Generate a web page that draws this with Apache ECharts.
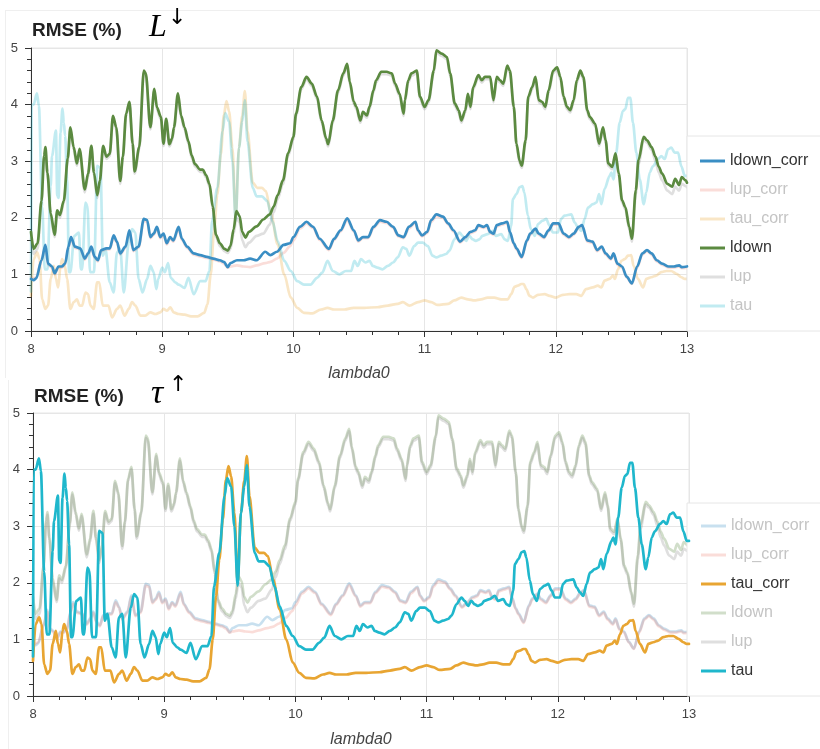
<!DOCTYPE html>
<html>
<head>
<meta charset="utf-8">
<script src="https://cdn.jsdelivr.net/npm/echarts@6/dist/echarts.min.js"></script>
<style>
  html, body { margin: 0; padding: 0; background: #fff; }
  #chart { width: 820px; height: 749px; }
</style>
</head>
<body>
<div id="chart"></div>
<script>
// RMSE (%) against lambda0, one [lambda0, rmse] pair per vertex.
const ldownCorr = [[8.00,0.92],[8.02,0.9],[8.04,0.93],[8.08,1.25],[8.11,1.52],[8.13,1.19],[8.16,1.14],[8.18,1.02],[8.21,1.14],[8.235,1.14],[8.26,1.19],[8.285,1.49],[8.305,1.66],[8.335,1.49],[8.375,1.46],[8.41,1.28],[8.435,1.37],[8.46,1.49],[8.485,1.31],[8.51,1.25],[8.535,1.43],[8.575,1.46],[8.60,1.46],[8.63,1.69],[8.655,1.58],[8.68,1.37],[8.72,1.49],[8.75,1.78],[8.78,1.43],[8.82,1.49],[8.86,1.98],[8.885,1.96],[8.91,1.66],[8.935,1.72],[8.96,1.84],[8.985,1.66],[9.01,1.72],[9.035,1.55],[9.06,1.66],[9.085,1.6],[9.125,1.84],[9.15,1.63],[9.19,1.49],[9.24,1.37],[9.29,1.34],[9.34,1.31],[9.39,1.28],[9.44,1.25],[9.47,1.22],[9.50,1.13],[9.52,1.2],[9.57,1.25],[9.62,1.25],[9.67,1.28],[9.72,1.25],[9.785,1.4],[9.825,1.34],[9.875,1.4],[9.925,1.52],[9.975,1.55],[10.0,1.66],[10.05,1.84],[10.10,1.93],[10.15,1.84],[10.20,1.63],[10.27,1.45],[10.31,1.63],[10.36,1.78],[10.41,1.99],[10.46,1.78],[10.495,1.6],[10.53,1.66],[10.57,1.66],[10.61,1.84],[10.66,1.96],[10.71,1.93],[10.76,1.84],[10.80,1.69],[10.84,1.66],[10.88,1.84],[10.93,1.93],[10.95,1.78],[10.98,1.69],[11.02,1.75],[11.05,1.96],[11.09,2.06],[11.14,2.02],[11.18,1.9],[11.22,1.78],[11.27,1.58],[11.31,1.66],[11.35,1.75],[11.385,1.78],[11.41,1.87],[11.45,1.84],[11.475,1.87],[11.50,1.75],[11.525,1.72],[11.55,1.87],[11.59,1.9],[11.63,1.93],[11.65,1.75],[11.68,1.55],[11.70,1.46],[11.74,1.31],[11.78,1.6],[11.805,1.72],[11.845,1.81],[11.87,1.72],[11.91,1.66],[11.945,1.78],[11.98,1.9],[12.02,1.9],[12.06,1.72],[12.10,1.66],[12.136,1.72],[12.175,1.84],[12.20,1.87],[12.24,1.6],[12.28,1.58],[12.315,1.43],[12.35,1.49],[12.38,1.37],[12.42,1.28],[12.44,1.37],[12.47,1.19],[12.505,1.14],[12.54,0.96],[12.58,0.84],[12.62,1.14],[12.66,1.37],[12.695,1.43],[12.73,1.37],[12.77,1.25],[12.81,1.19],[12.86,1.14],[12.90,1.14],[12.94,1.16],[12.96,1.13],[13.00,1.14]];

const lupCorr = [[8.00,0.96],[8.02,0.93],[8.04,0.95],[8.08,1.24],[8.11,1.49],[8.13,1.17],[8.16,1.12],[8.18,1.0],[8.21,1.12],[8.235,1.12],[8.26,1.17],[8.285,1.46],[8.305,1.63],[8.335,1.47],[8.375,1.44],[8.41,1.26],[8.435,1.35],[8.46,1.47],[8.485,1.29],[8.51,1.23],[8.535,1.41],[8.575,1.44],[8.60,1.44],[8.63,1.66],[8.655,1.56],[8.68,1.35],[8.72,1.47],[8.75,1.75],[8.78,1.41],[8.82,1.47],[8.86,1.95],[8.885,1.93],[8.91,1.64],[8.935,1.7],[8.96,1.81],[8.985,1.64],[9.01,1.7],[9.035,1.53],[9.06,1.64],[9.085,1.58],[9.125,1.81],[9.15,1.61],[9.19,1.47],[9.24,1.35],[9.29,1.32],[9.34,1.29],[9.39,1.26],[9.44,1.23],[9.47,1.19],[9.50,1.12],[9.52,1.14],[9.57,1.16],[9.62,1.14],[9.67,1.13],[9.72,1.16],[9.785,1.2],[9.825,1.22],[9.875,1.28],[9.925,1.38],[9.975,1.5],[10.0,1.6],[10.05,1.81],[10.10,1.9],[10.15,1.82],[10.20,1.61],[10.27,1.43],[10.31,1.61],[10.36,1.76],[10.41,1.96],[10.46,1.76],[10.495,1.58],[10.53,1.64],[10.57,1.64],[10.61,1.82],[10.66,1.93],[10.71,1.91],[10.76,1.82],[10.80,1.67],[10.84,1.64],[10.88,1.81],[10.93,1.91],[10.95,1.76],[10.98,1.67],[11.02,1.73],[11.05,1.93],[11.09,2.03],[11.14,2.0],[11.18,1.88],[11.22,1.76],[11.27,1.56],[11.31,1.64],[11.35,1.73],[11.385,1.76],[11.41,1.85],[11.45,1.82],[11.475,1.85],[11.50,1.73],[11.525,1.7],[11.55,1.85],[11.59,1.88],[11.63,1.91],[11.65,1.73],[11.68,1.53],[11.70,1.44],[11.74,1.29],[11.78,1.58],[11.805,1.7],[11.845,1.79],[11.87,1.7],[11.91,1.64],[11.945,1.76],[11.98,1.88],[12.02,1.88],[12.06,1.7],[12.10,1.64],[12.136,1.7],[12.175,1.82],[12.20,1.85],[12.24,1.58],[12.28,1.56],[12.315,1.41],[12.35,1.47],[12.38,1.35],[12.42,1.26],[12.44,1.35],[12.47,1.17],[12.505,1.12],[12.54,0.95],[12.58,0.83],[12.62,1.12],[12.66,1.35],[12.695,1.41],[12.73,1.35],[12.77,1.23],[12.81,1.17],[12.86,1.12],[12.90,1.12],[12.94,1.14],[12.96,1.11],[13.00,1.12]];

const tauCorr = [[8.00,0.62],[8.02,1.27],[8.047,1.39],[8.065,1.27],[8.085,0.56],[8.11,0.39],[8.13,0.45],[8.15,0.92],[8.174,1.15],[8.19,0.92],[8.207,0.77],[8.225,1.15],[8.237,1.27],[8.258,1.15],[8.275,0.92],[8.30,0.39],[8.326,0.51],[8.35,0.56],[8.37,0.45],[8.39,0.45],[8.415,0.68],[8.435,0.65],[8.453,0.45],[8.478,0.39],[8.504,0.86],[8.52,0.86],[8.547,0.45],[8.59,0.45],[8.618,0.24],[8.656,0.39],[8.68,0.45],[8.714,0.27],[8.745,0.39],[8.77,0.51],[8.795,0.45],[8.834,0.27],[8.87,0.27],[8.91,0.33],[8.948,0.3],[8.986,0.33],[9.01,0.39],[9.037,0.36],[9.062,0.42],[9.087,0.33],[9.125,0.3],[9.17,0.29],[9.22,0.26],[9.27,0.26],[9.32,0.32],[9.345,0.47],[9.37,1.0],[9.395,1.76],[9.42,2.41],[9.447,3.12],[9.47,3.82],[9.49,4.06],[9.51,3.88],[9.535,3.24],[9.56,2.0],[9.585,3.24],[9.61,3.8],[9.63,4.24],[9.65,3.53],[9.69,2.62],[9.725,2.53],[9.76,2.53],[9.79,2.47],[9.83,2.06],[9.88,1.53],[9.93,1.0],[9.98,0.59],[10.03,0.41],[10.08,0.32],[10.145,0.31],[10.21,0.38],[10.26,0.41],[10.31,0.38],[10.39,0.38],[10.46,0.41],[10.54,0.41],[10.64,0.42],[10.72,0.45],[10.795,0.48],[10.834,0.51],[10.884,0.45],[10.95,0.51],[11.0,0.54],[11.05,0.51],[11.1,0.46],[11.18,0.48],[11.227,0.54],[11.28,0.59],[11.33,0.56],[11.38,0.54],[11.43,0.56],[11.48,0.59],[11.53,0.59],[11.584,0.56],[11.634,0.56],[11.66,0.65],[11.685,0.78],[11.71,0.8],[11.737,0.83],[11.755,0.83],[11.775,0.74],[11.80,0.62],[11.826,0.59],[11.864,0.64],[11.915,0.65],[11.953,0.62],[12.0,0.59],[12.054,0.64],[12.105,0.65],[12.156,0.65],[12.194,0.62],[12.23,0.74],[12.283,0.77],[12.32,0.8],[12.347,0.77],[12.372,0.89],[12.41,0.92],[12.436,0.98],[12.45,0.92],[12.474,1.09],[12.5,1.24],[12.525,1.27],[12.55,1.33],[12.575,1.34],[12.593,1.15],[12.626,0.92],[12.665,0.77],[12.69,0.92],[12.728,0.95],[12.766,0.98],[12.804,1.04],[12.843,1.06],[12.88,1.06],[12.92,1.01],[12.957,0.95],[12.983,0.92],[13.0,0.92]];

const ldown = [[8.00,1.75],[8.02,1.45],[8.05,1.55],[8.08,2.3],[8.10,3.1],[8.11,3.25],[8.125,2.8],[8.15,2.08],[8.18,1.7],[8.20,2.13],[8.22,2.05],[8.25,2.3],[8.28,3.05],[8.30,3.6],[8.325,3.25],[8.35,2.96],[8.37,3.22],[8.41,2.5],[8.435,2.78],[8.46,3.27],[8.48,2.8],[8.505,2.4],[8.525,2.66],[8.55,3.27],[8.575,3.08],[8.60,3.13],[8.625,3.8],[8.65,3.6],[8.68,2.65],[8.70,3.08],[8.725,3.84],[8.75,4.05],[8.775,3.31],[8.79,2.82],[8.825,3.25],[8.86,4.6],[8.875,4.55],[8.91,3.6],[8.94,4.28],[8.96,3.95],[8.99,3.78],[9.01,3.31],[9.03,3.75],[9.055,3.3],[9.075,3.4],[9.09,3.6],[9.12,4.2],[9.145,3.8],[9.17,3.6],[9.20,3.35],[9.225,3.1],[9.25,2.95],[9.29,2.85],[9.31,2.85],[9.335,2.75],[9.36,2.6],[9.385,2.2],[9.41,1.7],[9.44,1.55],[9.475,1.45],[9.50,1.42],[9.52,1.5],[9.545,1.8],[9.565,2.12],[9.59,2.03],[9.61,1.75],[9.635,1.65],[9.66,1.75],[9.72,1.85],[9.77,1.97],[9.82,2.06],[9.85,2.2],[9.88,2.4],[9.92,2.66],[9.96,3.14],[10.00,3.43],[10.02,3.84],[10.06,4.31],[10.10,4.49],[10.14,4.37],[10.18,4.14],[10.215,3.72],[10.25,3.4],[10.265,3.3],[10.30,3.72],[10.34,4.25],[10.38,4.55],[10.41,4.72],[10.43,4.4],[10.46,4.05],[10.48,3.96],[10.51,3.72],[10.53,3.87],[10.56,3.81],[10.58,3.96],[10.61,4.25],[10.63,4.43],[10.67,4.58],[10.71,4.58],[10.75,4.55],[10.775,4.37],[10.81,4.19],[10.84,3.84],[10.85,4.08],[10.875,4.43],[10.90,4.55],[10.94,4.6],[10.965,4.14],[11.00,3.96],[11.03,4.08],[11.07,4.6],[11.09,4.96],[11.13,4.9],[11.17,4.84],[11.195,4.55],[11.23,4.02],[11.26,3.9],[11.28,3.72],[11.31,3.9],[11.33,4.19],[11.35,3.96],[11.37,4.31],[11.41,4.52],[11.436,4.43],[11.46,4.49],[11.50,4.49],[11.525,4.08],[11.55,4.49],[11.575,4.43],[11.60,4.37],[11.63,4.69],[11.65,4.6],[11.68,3.96],[11.70,3.31],[11.725,3.0],[11.74,2.92],[11.77,3.37],[11.79,4.14],[11.82,4.31],[11.845,4.49],[11.87,4.08],[11.895,4.05],[11.92,3.96],[11.945,4.25],[11.98,4.6],[12.01,4.66],[12.035,4.49],[12.06,4.14],[12.085,3.96],[12.11,3.9],[12.136,4.08],[12.16,4.43],[12.187,4.6],[12.21,4.49],[12.24,3.9],[12.26,3.78],[12.30,3.66],[12.33,3.31],[12.36,3.6],[12.38,3.37],[12.40,2.96],[12.43,2.9],[12.455,3.14],[12.48,2.78],[12.505,2.31],[12.53,2.19],[12.56,1.84],[12.58,1.63],[12.61,2.49],[12.63,3.02],[12.67,3.43],[12.695,3.37],[12.73,3.25],[12.76,3.08],[12.785,2.9],[12.81,2.78],[12.85,2.6],[12.887,2.55],[12.91,2.69],[12.94,2.58],[12.96,2.72],[12.99,2.66],[13.00,2.62]];

const lup = [[8.00,1.62],[8.02,1.36],[8.05,1.45],[8.08,2.25],[8.10,3.06],[8.11,3.2],[8.125,2.76],[8.15,2.02],[8.18,1.66],[8.20,2.08],[8.22,2.0],[8.25,2.26],[8.28,3.01],[8.30,3.56],[8.325,3.2],[8.35,2.92],[8.37,3.18],[8.41,2.45],[8.435,2.73],[8.46,3.22],[8.48,2.76],[8.505,2.35],[8.525,2.62],[8.55,3.23],[8.575,3.04],[8.60,3.09],[8.625,3.76],[8.65,3.56],[8.68,2.6],[8.70,3.04],[8.725,3.8],[8.75,4.01],[8.775,3.27],[8.79,2.78],[8.825,3.21],[8.86,4.56],[8.875,4.51],[8.91,3.56],[8.94,4.24],[8.96,3.91],[8.99,3.74],[9.01,3.27],[9.03,3.71],[9.055,3.26],[9.075,3.36],[9.09,3.56],[9.12,4.16],[9.145,3.76],[9.17,3.56],[9.20,3.31],[9.225,3.06],[9.25,2.91],[9.29,2.81],[9.31,2.81],[9.335,2.71],[9.36,2.56],[9.385,2.16],[9.41,1.66],[9.44,1.5],[9.475,1.41],[9.50,1.38],[9.52,1.45],[9.545,1.72],[9.565,2.0],[9.59,1.92],[9.61,1.6],[9.635,1.48],[9.66,1.56],[9.72,1.68],[9.77,1.72],[9.82,1.88],[9.85,2.1],[9.88,2.33],[9.92,2.6],[9.96,3.1],[10.00,3.39],[10.02,3.8],[10.06,4.27],[10.10,4.45],[10.14,4.33],[10.18,4.1],[10.215,3.68],[10.25,3.36],[10.265,3.26],[10.30,3.68],[10.34,4.21],[10.38,4.51],[10.41,4.68],[10.43,4.36],[10.46,4.01],[10.48,3.92],[10.51,3.68],[10.53,3.83],[10.56,3.77],[10.58,3.92],[10.61,4.21],[10.63,4.39],[10.67,4.54],[10.71,4.54],[10.75,4.51],[10.775,4.33],[10.81,4.15],[10.84,3.8],[10.85,4.04],[10.875,4.39],[10.90,4.51],[10.94,4.56],[10.965,4.1],[11.00,3.92],[11.03,4.04],[11.07,4.56],[11.09,4.92],[11.13,4.86],[11.17,4.8],[11.195,4.51],[11.23,3.98],[11.26,3.86],[11.28,3.68],[11.31,3.86],[11.33,4.15],[11.35,3.92],[11.37,4.27],[11.41,4.48],[11.436,4.39],[11.46,4.45],[11.50,4.45],[11.525,4.04],[11.55,4.45],[11.575,4.39],[11.60,4.33],[11.63,4.65],[11.65,4.56],[11.68,3.92],[11.70,3.27],[11.725,2.96],[11.74,2.88],[11.77,3.33],[11.79,4.1],[11.82,4.27],[11.845,4.45],[11.87,4.04],[11.895,4.01],[11.92,3.92],[11.945,4.21],[11.98,4.56],[12.01,4.62],[12.035,4.45],[12.06,4.1],[12.085,3.92],[12.11,3.86],[12.136,4.04],[12.16,4.39],[12.187,4.56],[12.21,4.45],[12.24,3.86],[12.26,3.74],[12.30,3.62],[12.33,3.27],[12.36,3.56],[12.38,3.33],[12.40,2.92],[12.43,2.86],[12.455,3.1],[12.48,2.74],[12.505,2.27],[12.53,2.15],[12.56,1.8],[12.58,1.58],[12.61,2.42],[12.63,2.95],[12.67,3.38],[12.695,3.33],[12.73,3.2],[12.76,3.0],[12.785,2.8],[12.81,2.66],[12.85,2.48],[12.887,2.42],[12.91,2.55],[12.94,2.48],[12.96,2.6],[12.99,2.56],[13.00,2.54]];

const tau = [[8.00,0.7],[8.005,4.0],[8.02,4.0],[8.045,4.2],[8.06,3.98],[8.085,2.2],[8.105,1.09],[8.125,1.09],[8.15,2.56],[8.16,3.09],[8.19,3.54],[8.20,2.39],[8.21,2.35],[8.225,3.5],[8.24,3.93],[8.25,3.68],[8.26,3.45],[8.275,2.68],[8.29,1.04],[8.30,1.04],[8.33,1.68],[8.365,1.74],[8.38,1.09],[8.39,1.09],[8.415,2.27],[8.43,2.21],[8.45,1.04],[8.48,1.04],[8.505,2.92],[8.53,2.88],[8.547,1.33],[8.567,1.45],[8.60,0.86],[8.63,0.68],[8.655,1.39],[8.68,1.45],[8.707,0.68],[8.745,1.56],[8.77,1.8],[8.795,1.74],[8.82,0.92],[8.85,0.68],[8.885,0.92],[8.91,1.15],[8.935,1.04],[8.955,0.74],[8.97,0.92],[9.00,1.12],[9.02,1.04],[9.045,1.2],[9.065,0.94],[9.10,0.86],[9.125,0.82],[9.17,0.76],[9.20,0.94],[9.24,0.65],[9.29,0.88],[9.33,0.88],[9.36,1.06],[9.38,1.94],[9.42,2.53],[9.46,3.53],[9.48,3.85],[9.51,3.7],[9.535,3.0],[9.56,1.95],[9.585,3.24],[9.61,3.7],[9.63,4.08],[9.65,3.35],[9.69,2.53],[9.72,2.38],[9.76,2.38],[9.80,2.3],[9.84,1.94],[9.88,1.59],[9.93,1.24],[9.98,1.06],[10.03,0.88],[10.08,0.82],[10.13,0.82],[10.18,0.94],[10.22,1.03],[10.26,1.24],[10.30,1.06],[10.35,1.0],[10.40,1.06],[10.44,1.06],[10.465,1.24],[10.49,1.15],[10.515,1.27],[10.55,1.21],[10.58,1.24],[10.605,1.15],[10.64,1.12],[10.68,1.09],[10.72,1.15],[10.76,1.21],[10.795,1.3],[10.834,1.48],[10.86,1.45],[10.884,1.33],[10.92,1.5],[10.95,1.56],[10.986,1.56],[11.025,1.5],[11.06,1.33],[11.09,1.3],[11.125,1.33],[11.164,1.36],[11.19,1.42],[11.227,1.62],[11.266,1.74],[11.29,1.68],[11.316,1.59],[11.34,1.68],[11.367,1.62],[11.39,1.59],[11.418,1.62],[11.44,1.68],[11.48,1.71],[11.52,1.77],[11.545,1.68],[11.584,1.71],[11.61,1.62],[11.634,1.59],[11.66,1.86],[11.673,2.33],[11.70,2.42],[11.724,2.54],[11.745,2.56],[11.76,2.45],[11.787,2.04],[11.81,1.8],[11.84,1.68],[11.864,1.89],[11.90,1.95],[11.927,1.98],[11.953,1.86],[11.978,1.74],[12.016,1.74],[12.04,1.98],[12.067,2.04],[12.118,2.06],[12.143,1.92],[12.169,1.83],[12.194,1.77],[12.22,1.98],[12.245,2.18],[12.283,2.24],[12.31,2.27],[12.33,2.42],[12.347,2.24],[12.372,2.51],[12.41,2.74],[12.423,2.8],[12.44,2.68],[12.46,3.15],[12.487,3.68],[12.512,3.89],[12.53,3.92],[12.55,4.12],[12.568,4.12],[12.588,3.68],[12.614,3.15],[12.64,2.68],[12.67,2.24],[12.69,2.45],[12.716,2.8],[12.74,2.91],[12.78,3.04],[12.804,3.09],[12.83,3.04],[12.855,3.21],[12.88,3.24],[12.906,3.15],[12.932,3.15],[12.957,2.91],[12.983,2.74],[13.0,2.74]];

const seriesNames = ['ldown_corr', 'lup_corr', 'tau_corr', 'ldown', 'lup', 'tau'];
const seriesValues = {
  ldown_corr: ldownCorr, lup_corr: lupCorr, tau_corr: tauCorr,
  ldown: ldown, lup: lup, tau: tau
};
const xTicks = [8, 9, 10, 11, 12, 13];
const yTicks = [0, 1, 2, 3, 4, 5];

const palette = {
  ldown_corr: '#3a8ec4', lup_corr: '#ee8478', tau_corr: '#e8a532',
  ldown: '#5b8a40', lup: '#8c8c8c', tau: '#1fb7cc'
};
const mutedAlpha = 0.28;

function rgba(hex, a) {
  const n = parseInt(hex.slice(1), 16);
  return 'rgba(' + ((n >> 16) & 255) + ',' + ((n >> 8) & 255) + ',' + (n & 255) + ',' + a + ')';
}

const SANS = '"Liberation Sans", Arial, Helvetica, sans-serif';
const SERIF = '"Liberation Serif", "Times New Roman", serif';

// Two stacked figures; each highlights a pair of quantities and mutes the rest.
const panels = [
  { active: ['ldown_corr', 'ldown'], grid: { left: 31, top: 48, width: 656, height: 283 },
    legendTop: 136, legendPad: [17, 60, 17, 13], nameGap: 35 },
  { active: ['tau_corr', 'tau'], grid: { left: 33, top: 413, width: 656, height: 284 },
    legendTop: 503, legendPad: [15, 60, 17, 14], nameGap: 36 }
];

const grids = [], xAxes = [], yAxes = [], legends = [], series = [];

panels.forEach((p, i) => {
  grids.push(Object.assign({ show: true, borderColor: '#e6e6e6', borderWidth: 1, containLabel: false }, p.grid));

  xAxes.push({
    type: 'value', gridIndex: i, min: xTicks[0], max: xTicks[xTicks.length - 1], interval: 1,
    name: 'lambda0', nameLocation: 'middle', nameGap: p.nameGap,
    nameTextStyle: { fontStyle: 'italic', fontSize: 16, color: '#444', fontFamily: SANS },
    axisLine: { show: true, onZero: false, lineStyle: { color: '#333', width: 1 } },
    axisTick: { show: true, length: 6, lineStyle: { color: '#333' } },
    minorTick: { show: true, splitNumber: 5, length: 4, lineStyle: { color: '#333' } },
    splitLine: { show: true, lineStyle: { color: '#e6e6e6', width: 1 } },
    axisLabel: { color: '#444', fontSize: 13, margin: 12, fontFamily: SANS }
  });

  yAxes.push({
    type: 'value', gridIndex: i, min: yTicks[0], max: yTicks[yTicks.length - 1], interval: 1,
    axisLine: { show: true, lineStyle: { color: '#333', width: 1 } },
    axisTick: { show: true, length: 6, lineStyle: { color: '#333' } },
    minorTick: { show: true, splitNumber: 5, length: 4, lineStyle: { color: '#333' } },
    splitLine: { show: true, lineStyle: { color: '#e6e6e6', width: 1 } },
    axisLabel: { color: '#444', fontSize: 13, margin: 13, fontFamily: SANS }
  });

  legends.push({
    orient: 'vertical', left: 687, top: p.legendTop, padding: p.legendPad,
    itemGap: 13, itemWidth: 25, itemHeight: 3, icon: 'rect', selectedMode: false,
    borderColor: '#e6e6e6', borderWidth: 1, backgroundColor: '#fff',
    textStyle: { fontSize: 16, fontFamily: SANS },
    data: seriesNames.map(n => {
      const on = p.active.indexOf(n) >= 0;
      return {
        name: n, icon: 'rect',
        itemStyle: { color: on ? palette[n] : rgba(palette[n], mutedAlpha), opacity: 1, borderWidth: 0 },
        textStyle: { color: on ? '#333' : '#c4c4c4' }
      };
    })
  });

  // muted lines first so the highlighted pair is drawn on top
  const order = seriesNames.filter(n => p.active.indexOf(n) < 0).concat(p.active);
  order.forEach(n => {
    const on = p.active.indexOf(n) >= 0;
    series.push({
      type: 'line', name: n, xAxisIndex: i, yAxisIndex: i,
      data: seriesValues[n], showSymbol: false, symbol: 'none', silent: true,
      smooth: 0.3, smoothMonotone: 'x',
      animation: false, z: on ? 4 : 2,
      lineStyle: { color: palette[n], width: 2.7, opacity: on ? 1 : mutedAlpha, join: 'round', cap: 'round' },
      itemStyle: { color: palette[n] }
    });
  });
});

const graphic = [
  // faint figure frames
  { type: 'line', shape: { x1: 5, y1: 10.5, x2: 820, y2: 10.5 }, style: { stroke: '#efefef', lineWidth: 1 }, silent: true },
  { type: 'line', shape: { x1: 5.5, y1: 10, x2: 5.5, y2: 378 }, style: { stroke: '#efefef', lineWidth: 1 }, silent: true },
  { type: 'line', shape: { x1: 8.5, y1: 380, x2: 8.5, y2: 749 }, style: { stroke: '#efefef', lineWidth: 1 }, silent: true },
  // panel titles
  { type: 'text', x: 32, y: 30.5, style: { text: 'RMSE (%)', font: 'bold 19px ' + SANS, fill: '#222', verticalAlign: 'middle' } },
  { type: 'text', x: 149, y: 27.5, style: { text: 'L', font: 'italic 32px ' + SERIF, fill: '#000', verticalAlign: 'middle' } },
  { type: 'text', x: 168, y: 18, style: { text: '\u2193', font: '22px "DejaVu Sans", sans-serif', fill: '#000', verticalAlign: 'middle' } },
  { type: 'text', x: 34, y: 397, style: { text: 'RMSE (%)', font: 'bold 19px ' + SANS, fill: '#222', verticalAlign: 'middle' } },
  { type: 'text', x: 151, y: 394.5, style: { text: '\u03c4', font: 'italic 34px ' + SERIF, fill: '#000', verticalAlign: 'middle' } },
  { type: 'text', x: 169, y: 385, style: { text: '\u2191', font: '22px "DejaVu Sans", sans-serif', fill: '#000', verticalAlign: 'middle' } }
];

const chart = echarts.init(document.getElementById('chart'), null, { renderer: 'canvas' });
chart.setOption({
  backgroundColor: '#fff',
  animation: false,
  grid: grids,
  xAxis: xAxes,
  yAxis: yAxes,
  legend: legends,
  series: series,
  graphic: graphic
});
</script>
</body>
</html>
